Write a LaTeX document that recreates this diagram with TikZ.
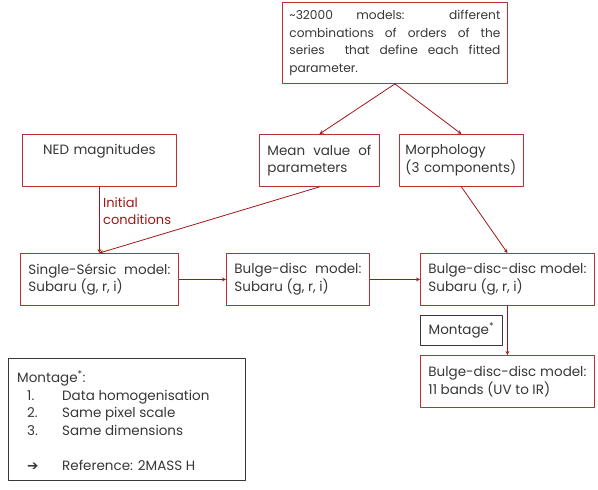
\documentclass[tikz,border=0pt]{standalone}
\usepackage{fontspec}
\setmainfont{Poppins}
\newfontfamily\symfont{DejaVu Sans}
\definecolor{boxred}{RGB}{184,48,48}
\definecolor{arrowred}{RGB}{160,22,22}
\definecolor{txtgray}{RGB}{55,55,55}
\begin{document}
\begin{tikzpicture}[x=1pt, y=-1pt, line join=round, >=stealth,
		font=\fontsize{13.5}{17.7}\selectfont, text=txtgray]
		\tikzset{box/.style={draw=boxred, line width=0.9pt, anchor=north west, inner xsep=8pt, inner ysep=4pt, align=justify, minimum height=52pt},
			link/.style={->, draw=arrowred, line width=0.8pt}}
		\useasboundingbox (0,0) rectangle (598,490);
		% top row
		\node[box, text width=211pt, minimum height=81pt, inner xsep=7pt, font=\fontsize{12.2}{17.7}\selectfont] (models) at (282,2) {\textasciitilde 32000 models: different\linebreak combinations of orders of the\linebreak series\ \ that define each fitted\linebreak parameter.};
		\node[box, text width=138pt, align=center, text depth=22pt] (ned) at (22,134) {NED magnitudes};
		\node[box, text width=104pt] (mean) at (259,134) {Mean value of\linebreak parameters};
		\node[box, text width=116pt, inner xsep=4pt, align=left] (morph) at (399,134) {\hspace*{2pt}Morphology\\\hspace*{2pt}(3 components)};
		% model row
		\node[box, text width=142pt] (single) at (20,253) {Single-Sérsic model:\linebreak Subaru (g, r, i)};
		\node[box, text width=127pt] (bd) at (226,253) {Bulge-disc model:\linebreak Subaru (g, r, i)};
		\node[box, text width=158pt] (bdd) at (420,253) {Bulge-disc-disc model:\linebreak Subaru (g, r, i)};
		\node[box, text width=158pt] (bddall) at (420,355) {Bulge-disc-disc model:\linebreak 11 bands (UV to IR)};
		\node[draw=txtgray, line width=0.8pt, anchor=north west, minimum width=82pt, minimum height=30pt] (montage) at (420,315) {Montage\textsuperscript{*}};
		% links
		\draw[link] (models.south) -- (mean.north);
		\draw[link] (models.south) -- (morph.north);
		\draw[link] (ned.south) -- (single.north) node[pos=0.37, right, align=left, text=arrowred, font=\fontsize{13}{17}\selectfont] {Initial\\conditions};
		\draw[link] (mean.south) -- (single.north);
		\draw[link] (morph.south) -- (bdd.north);
		\draw[link] (single.east) -- (bd.west);
		\draw[link] (bd.east) -- (bdd.west);
		\draw[link] (bdd.south) -- (bddall.north);
		% legend
		\node[draw=txtgray, line width=0.8pt, anchor=north west, minimum width=237pt, minimum height=122pt] (legend) at (8,358) {};
		\node[anchor=north west, align=left, inner sep=0pt] (legendtxt) at (17,370) {Montage\textsuperscript{*}:\\
			\hspace*{10pt}\makebox[35pt][l]{1.}Data homogenisation\\
			\hspace*{10pt}\makebox[35pt][l]{2.}Same pixel scale\\
			\hspace*{10pt}\makebox[35pt][l]{3.}Same dimensions\\[17.7pt]
			\hspace*{10pt}\makebox[35pt][l]{\symfont ➔}Reference: 2MASS H};
	\end{tikzpicture}
\end{document}
